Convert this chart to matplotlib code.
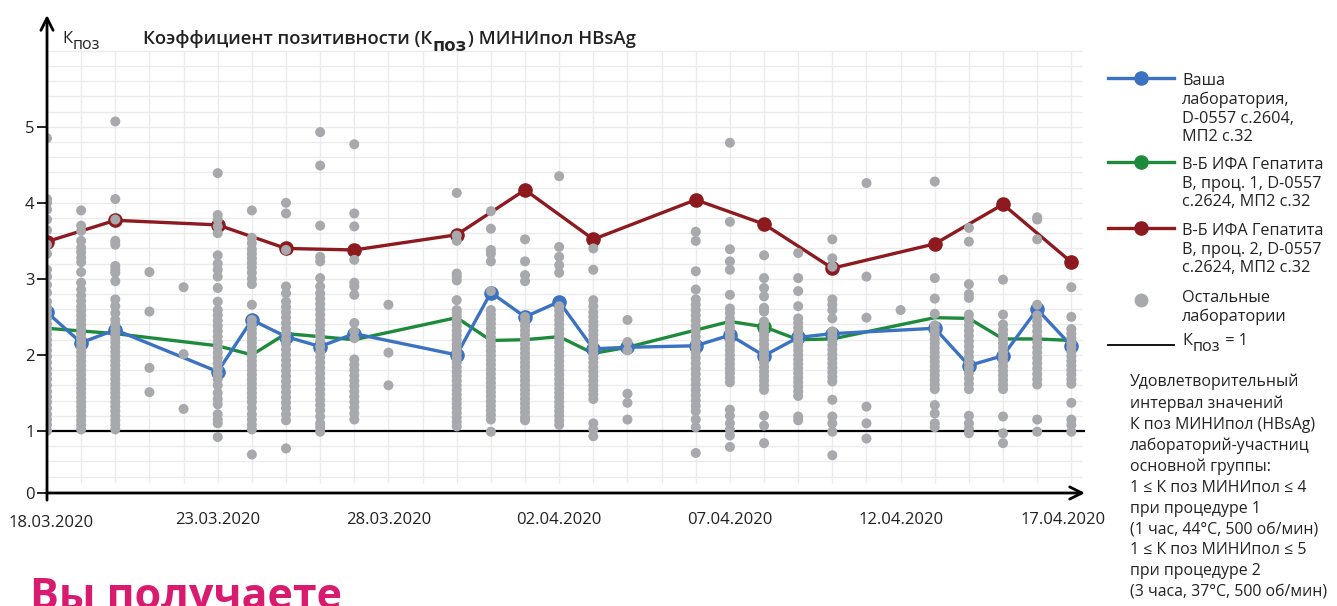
import matplotlib
matplotlib.use("Agg")
import matplotlib.pyplot as plt
from matplotlib.lines import Line2D
from matplotlib.transforms import ScaledTranslation
import numpy as np
import pandas as pd

plt.rcParams['font.family'] = ['Open Sans', 'DejaVu Sans']

# ---------------- data ----------------
start_date = "2020-03-18"
tick_dates = ["18.03.2020", "23.03.2020", "28.03.2020", "02.04.2020",
              "07.04.2020", "12.04.2020", "17.04.2020"]

your_lab_days = [0, 1, 2, 5, 6, 7, 8, 9, 12, 13, 14, 15, 16, 17, 19, 20, 21, 22, 23, 26, 27, 28, 29, 30]
your_lab_kpoz = [2.56, 2.16, 2.33, 1.78, 2.46, 2.24, 2.11, 2.28, 2.00, 2.82, 2.50, 2.70, 2.08, 2.10,
                 2.12, 2.26, 1.99, 2.23, 2.28, 2.35, 1.86, 1.99, 2.60, 2.12]

proc1_days = [0, 2, 5, 6, 7, 9, 12, 13, 14, 15, 16, 17, 20, 21, 22, 23, 26, 27, 28, 29, 30]
proc1_kpoz = [2.35, 2.28, 2.12, 2.00, 2.28, 2.20, 2.49, 2.19, 2.20, 2.24, 2.02, 2.10,
              2.44, 2.37, 2.20, 2.21, 2.49, 2.48, 2.21, 2.21, 2.19]

proc2_days = [0, 2, 5, 7, 9, 12, 14, 16, 19, 21, 23, 26, 28, 30]
proc2_kpoz = [3.49, 3.77, 3.71, 3.40, 3.38, 3.58, 4.17, 3.52, 4.04, 3.72, 3.14, 3.46, 3.98, 3.22]

other_labs_days = [0, 1, 2, 3, 4, 5, 6, 7, 8, 9, 10, 12, 13, 14, 15, 16, 17,
                   19, 20, 21, 22, 23, 24, 25, 26, 27, 28, 29, 30]
other_labs_kpoz = [
    [4.85, 4.05, 4.00, 3.91, 3.78, 3.64, 3.45, 3.33, 3.12, 3.03, 2.92, 2.82, 2.70, 2.62, 2.55, 2.48, 2.41,
     2.34, 2.27, 2.20, 2.13, 2.06, 1.98, 1.90, 1.82, 1.75, 1.68, 1.60, 1.52, 1.45, 1.38, 1.30, 1.22, 1.15,
     1.08, 1.00],
    [3.90, 3.70, 3.63, 3.50, 3.41, 3.35, 3.28, 3.22, 3.09, 2.95, 2.86, 2.78, 2.71, 2.64, 2.58, 2.52, 2.46,
     2.40, 2.34, 2.28, 2.22, 2.16, 2.10, 2.04, 1.98, 1.92, 1.86, 1.80, 1.74, 1.68, 1.62, 1.56, 1.50, 1.44,
     1.38, 1.32, 1.26, 1.20, 1.14, 1.08, 1.02],
    [5.07, 4.05, 3.78, 3.50, 3.45, 3.17, 3.12, 3.08, 2.97, 2.73, 2.64, 2.55, 2.46, 2.40, 2.34, 2.28, 2.22,
     2.16, 2.10, 2.04, 1.98, 1.92, 1.86, 1.80, 1.74, 1.68, 1.62, 1.56, 1.50, 1.44, 1.38, 1.32, 1.26, 1.20,
     1.14, 1.08, 1.02],
    [3.09, 2.57, 1.83, 1.51],
    [2.89, 2.01, 1.29],
    [4.39, 3.84, 3.78, 3.69, 3.60, 3.31, 3.20, 3.12, 3.03, 2.88, 2.70, 2.59, 2.52, 2.45, 2.38, 2.31, 2.24,
     2.17, 2.10, 2.03, 1.96, 1.89, 1.82, 1.75, 1.68, 1.60, 1.50, 1.42, 1.35, 1.22, 1.15, 1.10, 0.92],
    [3.90, 3.54, 3.47, 3.39, 3.33, 3.27, 3.21, 3.15, 3.08, 3.00, 2.93, 2.66, 2.46, 2.40, 2.34, 2.28, 2.22,
     2.16, 2.10, 2.04, 1.98, 1.92, 1.86, 1.80, 1.74, 1.68, 1.62, 1.56, 1.50, 1.44, 1.38, 1.30, 1.22, 1.15,
     1.08, 1.02, 0.69],
    [4.00, 3.86, 3.38, 2.90, 2.81, 2.70, 2.63, 2.56, 2.49, 2.42, 2.35, 2.28, 2.21, 2.14, 2.07, 2.00, 1.93,
     1.86, 1.79, 1.72, 1.65, 1.58, 1.51, 1.44, 1.37, 1.30, 1.22, 1.14, 0.77],
    [4.93, 4.49, 3.70, 3.29, 3.23, 3.01, 2.90, 2.81, 2.74, 2.67, 2.60, 2.53, 2.46, 2.39, 2.32, 2.25, 2.18,
     2.11, 2.04, 1.97, 1.90, 1.83, 1.76, 1.69, 1.62, 1.55, 1.48, 1.41, 1.34, 1.27, 1.19, 1.10, 1.05, 0.99],
    [4.77, 3.86, 3.69, 3.25, 2.95, 2.90, 2.79, 2.42, 2.31, 2.22, 1.94, 1.87, 1.80, 1.73, 1.66, 1.59, 1.52,
     1.45, 1.38, 1.31, 1.23, 1.15],
    [2.66, 2.03, 1.60],
    [4.13, 3.57, 3.50, 3.07, 3.03, 2.98, 2.72, 2.59, 2.55, 2.50, 2.44, 2.38, 2.32, 2.26, 2.20, 2.14, 2.08,
     2.02, 1.96, 1.90, 1.84, 1.78, 1.72, 1.66, 1.60, 1.54, 1.48, 1.42, 1.36, 1.30, 1.24, 1.18, 1.12, 1.06],
    [3.89, 3.66, 3.38, 3.33, 3.23, 2.84, 2.59, 2.53, 2.47, 2.41, 2.35, 2.29, 2.23, 2.17, 2.11, 2.05, 1.99,
     1.93, 1.87, 1.81, 1.75, 1.69, 1.63, 1.57, 1.51, 1.45, 1.39, 1.33, 1.27, 1.21, 1.15, 0.99],
    [3.52, 3.23, 3.05, 2.97, 2.50, 2.44, 2.38, 2.32, 2.26, 2.20, 2.14, 2.08, 2.02, 1.96, 1.90, 1.84, 1.78,
     1.72, 1.66, 1.60, 1.54, 1.48, 1.42, 1.36, 1.30, 1.24, 1.18, 1.14],
    [4.35, 3.42, 3.29, 3.18, 3.08, 2.64, 2.58, 2.52, 2.46, 2.40, 2.34, 2.28, 2.22, 2.16, 2.10, 2.04, 1.98,
     1.92, 1.86, 1.80, 1.74, 1.68, 1.62, 1.56, 1.50, 1.44, 1.38, 1.32, 1.26, 1.20, 1.14, 1.08],
    [3.40, 3.12, 2.72, 2.64, 2.56, 2.50, 2.44, 2.38, 2.32, 2.26, 2.20, 2.14, 2.08, 2.02, 1.96, 1.90, 1.84,
     1.78, 1.72, 1.66, 1.60, 1.54, 1.48, 1.42, 1.10, 1.02, 0.93],
    [2.46, 2.17, 2.06, 1.49, 1.37, 1.15],
    [3.62, 3.50, 3.10, 2.86, 2.73, 2.66, 2.59, 2.52, 2.45, 2.38, 2.31, 2.24, 2.17, 2.10, 2.03, 1.96, 1.89,
     1.82, 1.75, 1.68, 1.61, 1.54, 1.47, 1.40, 1.33, 1.26, 1.15, 1.05, 0.71],
    [4.79, 3.75, 3.39, 3.23, 3.12, 2.79, 2.61, 2.55, 2.48, 2.42, 2.36, 2.30, 2.24, 2.18, 2.12, 2.06, 2.00,
     1.94, 1.88, 1.82, 1.76, 1.70, 1.64, 1.28, 1.20, 1.10, 1.02, 0.94, 0.79],
    [3.31, 3.01, 2.88, 2.77, 2.62, 2.57, 2.44, 2.38, 2.32, 2.26, 2.20, 2.14, 2.08, 2.02, 1.96, 1.90, 1.84,
     1.78, 1.72, 1.66, 1.60, 1.54, 1.20, 1.07, 0.84],
    [3.34, 3.01, 2.84, 2.64, 2.48, 2.42, 2.36, 2.30, 2.24, 2.18, 2.12, 2.06, 2.00, 1.94, 1.88, 1.82, 1.76,
     1.70, 1.64, 1.58, 1.52, 1.46, 1.19, 1.14],
    [3.52, 3.27, 3.16, 2.73, 2.66, 2.59, 2.48, 2.31, 2.25, 2.19, 2.13, 2.07, 2.01, 1.95, 1.89, 1.83, 1.77,
     1.71, 1.65, 1.41, 1.19, 1.10, 0.99, 0.68],
    [4.26, 3.03, 2.49, 1.32, 1.10, 0.90],
    [2.59],
    [4.28, 3.01, 2.74, 2.54, 2.39, 2.33, 2.27, 2.21, 2.15, 2.09, 2.03, 1.97, 1.91, 1.85, 1.79, 1.73, 1.67,
     1.61, 1.55, 1.34, 1.23, 1.10, 1.05],
    [3.67, 3.49, 2.93, 2.80, 2.75, 2.53, 2.46, 2.39, 2.32, 2.25, 2.18, 2.11, 2.04, 1.97, 1.90, 1.83, 1.76,
     1.69, 1.62, 1.55, 1.20, 1.10, 1.03, 0.97],
    [2.99, 2.53, 2.40, 2.33, 2.27, 2.21, 2.15, 2.09, 2.03, 1.97, 1.91, 1.85, 1.79, 1.73, 1.67, 1.61, 1.55,
     1.19, 0.97, 0.84],
    [3.81, 3.78, 3.52, 2.66, 2.52, 2.45, 2.38, 2.31, 2.24, 2.17, 2.10, 2.03, 1.96, 1.89, 1.82, 1.75, 1.68,
     1.61, 1.15, 0.99],
    [2.89, 2.50, 2.34, 2.28, 2.22, 2.16, 2.10, 2.04, 1.98, 1.92, 1.86, 1.80, 1.74, 1.68, 1.62, 1.37, 1.15,
     1.08, 0.99],
]

legend_labels = ["Ваша\nлаборатория,\nD-0557 с.2604,\nМП2 с.32",
                 "В-Б ИФА Гепатита\nВ, проц. 1, D-0557\nс.2624, МП2 с.32",
                 "В-Б ИФА Гепатита\nВ, проц. 2, D-0557\nс.2624, МП2 с.32",
                 "Остальные\nлаборатории"]
note_text = ("Удовлетворительный\nинтервал значений\nК поз МИНИпол (HBsAg)\n"
             "лабораторий-участниц\nосновной группы:\n1 ≤ К поз МИНИпол ≤ 4\n"
             "при процедуре 1\n(1 час, 44°C, 500 об/мин)\n1 ≤ К поз МИНИпол ≤ 5\n"
             "при процедуре 2\n(3 часа, 37°C, 500 об/мин)")

# ---------------- styling ----------------
C_BLUE = '#3b72c2'
C_GREEN = '#1e8a3b'
C_RED = '#8c1a1e'
C_GRAY = '#a8a9ad'
C_GRID = '#ebebeb'
C_TEXT = '#222222'

t0 = pd.Timestamp(start_date)
def to_dt(days):
    return [t0 + pd.Timedelta(days=d) for d in days]

W, H = 1337, 606
fig = plt.figure(figsize=(W / 100, H / 100), dpi=100)
ax_l, ax_b, ax_r, ax_t = 47, 493, 1085, 15
ax = fig.add_axes([ax_l / W, 1 - ax_b / H, (ax_r - ax_l) / W, (ax_b - ax_t) / H])

y_bottom = 0.184
ax.set_ylim(y_bottom, 6.47)
ax.set_xlim(t0, t0 + pd.Timedelta(days=30.4))

# grid
grid_days = to_dt(range(0, 31))
ax.vlines(grid_days, 0.32, 6.0, color=C_GRID, lw=1, zorder=0)
ax.hlines(np.arange(0.4, 6.01, 0.2), t0, t0 + pd.Timedelta(days=30.3), color=C_GRID, lw=1, zorder=0)

# K=1 line
ax.axhline(1, color='black', lw=1.6, zorder=1.5)

lw = 2.4
ms = 9.5
ax.plot(to_dt(proc1_days), proc1_kpoz, color=C_GREEN, lw=lw, zorder=2,
        marker='o', ms=ms, markevery=[proc1_days.index(21)])
ax.plot(to_dt(proc2_days), proc2_kpoz, color=C_RED, lw=lw, zorder=2, marker='o', ms=ms)
ax.plot(to_dt(your_lab_days), your_lab_kpoz, color=C_BLUE, lw=lw, zorder=2.2, marker='o', ms=ms)

# other labs (drawn over the series, as in the original)
for d, vals in zip(other_labs_days, other_labs_kpoz):
    ax.scatter(to_dt([d] * len(vals)), vals, s=52, color=C_GRAY, edgecolors='none', zorder=3)

for sp in ax.spines.values():
    sp.set_visible(False)

# axes arrows
ax.annotate('', xy=(1.0, 0), xytext=(0, 0), xycoords='axes fraction',
            arrowprops=dict(arrowstyle='->', lw=2, color='black', mutation_scale=22,
                            shrinkA=0, shrinkB=0))
ax.annotate('', xy=(0, 1.0), xytext=(0, -0.015), xycoords='axes fraction',
            arrowprops=dict(arrowstyle='->', lw=2, color='black', mutation_scale=22,
                            shrinkA=0, shrinkB=0))

ax.set_yticks([y_bottom, 1, 2, 3, 4, 5])
ax.set_yticklabels(['0', '1', '2', '3', '4', '5'])
ax.tick_params(axis='y', length=7, width=1.2, color='black', labelsize=12, pad=2, labelcolor=C_TEXT)
ax.set_xticks(to_dt([0, 5, 10, 15, 20, 25, 30]))
ax.set_xticklabels(tick_dates)
ax.tick_params(axis='x', length=0, labelsize=12, pad=14, labelcolor=C_TEXT)
xt = ax.get_xticklabels()
xt[0].set_transform(xt[0].get_transform() + ScaledTranslation(0.04, -0.03, fig.dpi_scale_trans))
xt[-1].set_transform(xt[-1].get_transform() + ScaledTranslation(-0.08, 0, fig.dpi_scale_trans))


def sub_text(x_px, y_px, main, sub, tail, size, sub_size, weight, sub_weight, drop):
    t1 = fig.text(x_px / W, 1 - y_px / H, main, fontsize=size, fontweight=weight,
                  va='baseline', ha='left', color=C_TEXT)
    t2 = ax.annotate(sub, xy=(1, 0), xycoords=t1, xytext=(0.5, -drop), textcoords='offset points',
                     fontsize=sub_size, fontweight=sub_weight, va='bottom', ha='left',
                     color=C_TEXT, annotation_clip=False)
    if tail:
        ax.annotate(tail, xy=(1, 0), xycoords=(t2, t1), xytext=(0.5, 0), textcoords='offset points',
                    fontsize=size, fontweight=weight, va='bottom', ha='left',
                    color=C_TEXT, annotation_clip=False)


# titles
sub_text(62, 43, 'К', 'поз', '', 12, 11.5, 'normal', 'normal', 4)
sub_text(143, 44, 'Коэффициент позитивности (К', 'поз', ') МИНИпол HBsAg',
         13.3, 13.3, 'semibold', 'bold', 5)

# legend (manual)
def leg_line(y, color, marker=True):
    yf = 1 - y / H
    fig.add_artist(Line2D([1108 / W, 1174 / W], [yf, yf], color=color, lw=lw))
    if marker:
        fig.add_artist(Line2D([1141 / W], [yf], color=color, marker='o', ms=ms, lw=0))

leg_line(78, C_BLUE)
leg_line(162, C_GREEN)
leg_line(228, C_RED)
fig.add_artist(Line2D([1141 / W], [1 - 300 / H], color=C_GRAY, marker='o', ms=9, lw=0))
fig.add_artist(Line2D([1108 / W, 1174 / W], [1 - 345 / H, 1 - 345 / H], color='black', lw=1.3))

for y, lab in zip([73, 157, 223, 290], legend_labels):
    fig.text(1182 / W, 1 - y / H, lab, fontsize=11.7, va='top', ha='left', linespacing=1.22, color=C_TEXT)
sub_text(1182, 345, 'К', 'поз', ' = 1', 11.7, 11.7, 'normal', 'normal', 4)
fig.text(1130 / W, 1 - 374 / H, note_text, fontsize=11.4, va='top', ha='left', linespacing=1.39,
         color=C_TEXT)

fig.text(30 / W, 1 - 609 / H, 'Вы получаете', fontsize=31, fontweight='bold', color='#d81b6f',
         va='baseline', ha='left')

fig.savefig('out.png', dpi=100)
